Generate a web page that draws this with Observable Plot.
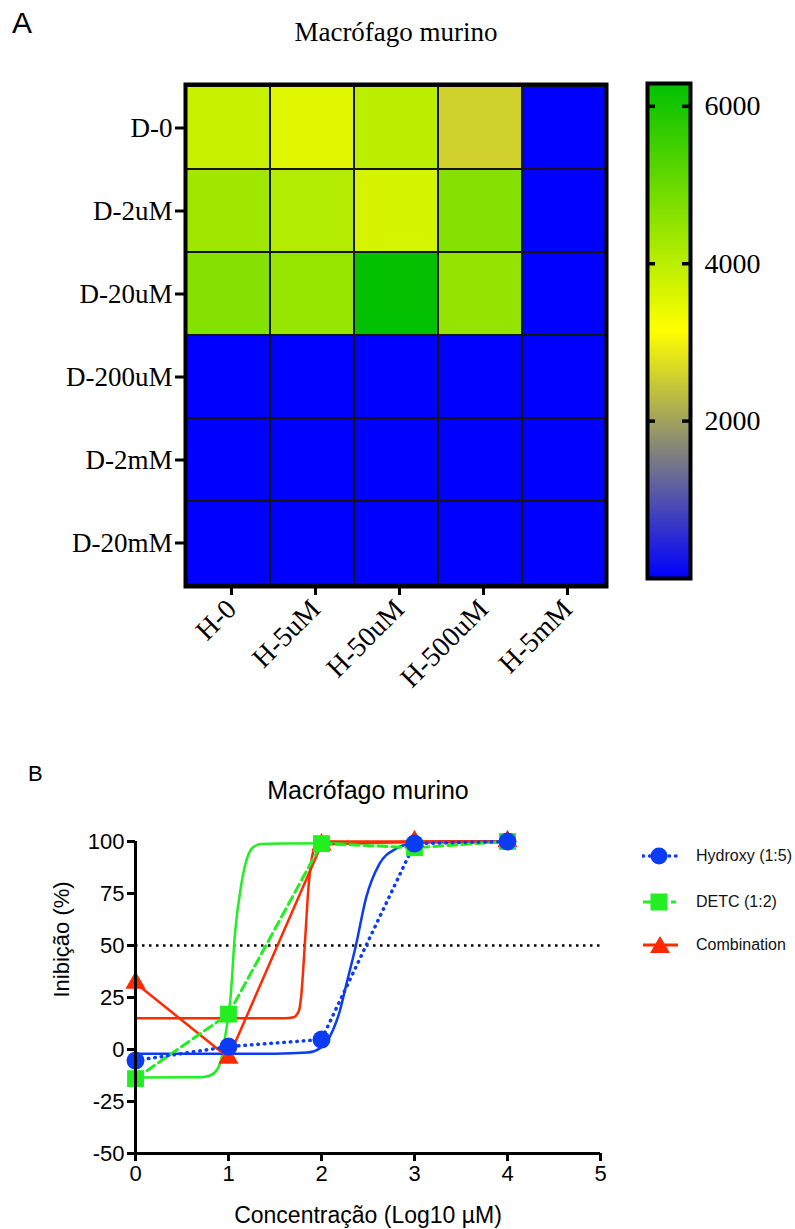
<!DOCTYPE html>
<html><head><meta charset="utf-8">
<script src="https://cdn.jsdelivr.net/npm/d3@7"></script>
<script src="https://cdn.jsdelivr.net/npm/@observablehq/plot@0.6"></script>
<style>
body{margin:0;background:#fff;}
#root{position:relative;width:795px;height:1229px;overflow:hidden;background:#fff;}
.abs{position:absolute;}
.lg{position:absolute;left:642px;height:20px;display:flex;align-items:center;white-space:nowrap;font-family:"Liberation Sans",Arial,sans-serif;font-size:16px;color:#111;}
.lg svg{margin-right:14px;flex:none;}
</style></head><body><div id="root"></div>
<script>
// ---------- Panel A: heatmap ----------
const hCols = ["H-0", "H-5uM", "H-50uM", "H-500uM", "H-5mM"];
const dRows = ["D-0", "D-2uM", "D-20uM", "D-200uM", "D-2mM", "D-20mM"];
const rowD0     = [3820, 3530, 3970, 2580, 0];
const rowD2uM   = [4320, 4070, 3680, 4660, 0];
const rowD20uM  = [4660, 4420, 6250, 4470, 0];
const rowD200uM = [0, 0, 0, 0, 0];
const rowD2mM   = [0, 0, 0, 0, 0];
const rowD20mM  = [0, 0, 0, 0, 0];
const colorMax = 6290;
const colorTicks = [2000, 4000, 6000];

// ---------- Panel B: dose-response ----------
const concLog = [0, 1, 2, 3, 4];
const hydroxyInh = [-5.3, 1.4, 4.8, 99, 100];
const detcInh = [-14, 17, 99, 97, 100];
const comboInh = [32, -4, 98.5, 100, 100];
const hydroxyFitX = [0, 1.5, 1.85, 1.98, 2.06, 2.12, 2.2, 2.26, 2.37, 2.48, 2.62, 2.8, 2.98, 3.3, 4];
const hydroxyFitY = [-2, -2, -1.5, 0.5, 4, 9, 19, 30, 50, 73, 89, 96.5, 99, 100, 100];
const detcFitX = [0, 0.7, 0.8, 0.88, 0.93, 0.97, 1.02, 1.07, 1.14, 1.2, 1.26, 1.35, 1.6, 4];
const detcFitY = [-13.5, -13.3, -12.5, -9.5, -3, 8, 24, 56, 80, 92, 97, 98.8, 99, 99.5];
const comboFitX = [0, 1.6, 1.7, 1.76, 1.78, 1.82, 1.86, 1.9, 1.95, 2.05, 4];
const comboFitY = [15, 15, 15.5, 19, 25, 50, 78, 93, 98.5, 100, 100];
const xTicksB = [0, 1, 2, 3, 4, 5];
const yTicksB = [-50, -25, 0, 25, 50, 75, 100];
const seriesNames = ["Hydroxy (1:5)", "DETC (1:2)", "Combination"];
const seriesColors = ["#0a3cf5", "#22ee22", "#ff2a00"];

const root = document.getElementById("root");
function place(el, left, top, w) {
  const d = document.createElement("div");
  d.className = "abs";
  d.style.left = left + "px"; d.style.top = top + "px";
  if (w) d.style.width = w + "px";
  d.appendChild(el); root.appendChild(d); return d;
}
function label(txt, left, top, css) {
  const d = document.createElement("div");
  d.className = "abs"; d.textContent = txt;
  d.style.left = left + "px"; d.style.top = top + "px";
  Object.assign(d.style, css); root.appendChild(d); return d;
}
const plain = d => String(d);

const colorScale = {type: "linear", domain: [0, colorMax / 2, colorMax], range: ["#0000ff", "#ffff00", "#00c000"], interpolate: "rgb"};

const rowsA = [rowD0, rowD2uM, rowD20uM, rowD200uM, rowD2mM, rowD20mM];
const heat = [];
dRows.forEach((d, i) => hCols.forEach((h, j) => heat.push({d, h, v: rowsA[i][j]})));

const plotA = Plot.plot({
  width: 795, height: 700,
  marginLeft: 185, marginRight: 189, marginTop: 84, marginBottom: 114,
  style: {fontFamily: "'Liberation Serif', 'Times New Roman', serif", fontSize: "27px", color: "#000", background: "transparent", overflow: "visible"},
  x: {domain: hCols, padding: 0, label: null},
  y: {domain: dRows, padding: 0, label: null},
  color: colorScale,
  marks: [
    Plot.cell(heat, {x: "h", y: "d", fill: "v", stroke: "#151515", strokeWidth: 2}),
    Plot.frame({stroke: "#000", strokeWidth: 4}),
    Plot.axisX({tickRotate: -45, tickSize: 9, tickPadding: 9, strokeWidth: 3, fontSize: 28, dx: 3, label: null}),
    Plot.axisY({tickSize: 10, tickPadding: 3, strokeWidth: 3, fontSize: 27, label: null}),
    Plot.text(["Macrófago murino"], {frameAnchor: "top", lineAnchor: "middle", dy: -52, fontSize: 27})
  ]
});
place(plotA, 0, 0, 795);
label("A", 12, 6, {fontFamily: "'Liberation Sans', Arial, sans-serif", fontSize: "30px", color: "#000"});

// colour bar
const barSteps = d3.range(0, colorMax, 5).map(v => ({v0: v, v1: Math.min(v + 6, colorMax), m: v + 2.5}));
const plotBar = Plot.plot({
  width: 175, height: 700,
  marginLeft: 27, marginRight: 105, marginTop: 83, marginBottom: 122,
  style: {fontFamily: "'Liberation Serif', 'Times New Roman', serif", fontSize: "28px", color: "#000", background: "transparent", overflow: "visible"},
  y: {domain: [0, colorMax], label: null},
  color: colorScale,
  marks: [
    Plot.rect(barSteps, {y1: "v0", y2: "v1", fill: "m", shapeRendering: "crispEdges"}),
    Plot.ruleY(colorTicks, {insetRight: 35, strokeWidth: 3.5, stroke: "#000"}),
    Plot.ruleY(colorTicks, {insetLeft: 35, strokeWidth: 3.5, stroke: "#000"}),
    Plot.frame({stroke: "#000", strokeWidth: 4}),
    Plot.axisY({anchor: "right", ticks: colorTicks, tickSize: 0, tickPadding: 14, fontSize: 28, tickFormat: plain, label: null})
  ]
});
place(plotBar, 620, 0, 175);

// ---------- Panel B ----------
const pts = (ys) => concLog.map((x, i) => ({x, y: ys[i]}));
const fit = (xs, ys) => xs.map((x, i) => ({x, y: ys[i]}));
const hydroxyPts = pts(hydroxyInh), detcPts = pts(detcInh), comboPts = pts(comboInh);
const [cH, cD, cC] = seriesColors;

const plotB = Plot.plot({
  width: 795, height: 489,
  marginLeft: 135, marginRight: 195, marginTop: 101, marginBottom: 76,
  style: {fontFamily: "'Liberation Sans', Arial, sans-serif", fontSize: "22px", color: "#000", background: "transparent", overflow: "visible"},
  x: {domain: [0, 5], label: null},
  y: {domain: [-50, 100], label: null},
  marks: [
    Plot.ruleY([50], {stroke: "#000", strokeWidth: 2.5, strokeDasharray: "2.5,4.5"}),
    Plot.line(fit(comboFitX, comboFitY), {x: "x", y: "y", stroke: cC, strokeWidth: 2.5, curve: "monotone-x"}),
    Plot.line(fit(detcFitX, detcFitY), {x: "x", y: "y", stroke: cD, strokeWidth: 2.5, curve: "monotone-x"}),
    Plot.line(fit(hydroxyFitX, hydroxyFitY), {x: "x", y: "y", stroke: cH, strokeWidth: 2.5, curve: "monotone-x"}),
    Plot.line(comboPts, {x: "x", y: "y", stroke: cC, strokeWidth: 2.5}),
    Plot.line(detcPts, {x: "x", y: "y", stroke: cD, strokeWidth: 3, strokeDasharray: "9,5"}),
    Plot.line(hydroxyPts, {x: "x", y: "y", stroke: cH, strokeWidth: 3.5, strokeDasharray: "0.5,6", strokeLinecap: "round"}),
    Plot.dot(comboPts, {x: "x", y: "y", symbol: "triangle", r: 7.5, fill: cC}),
    Plot.dot(detcPts, {x: "x", y: "y", symbol: "square", r: 9.5, fill: cD}),
    Plot.dot(hydroxyPts, {x: "x", y: "y", symbol: "circle", r: 9, fill: cH}),
    Plot.ruleX([0], {stroke: "#000", strokeWidth: 3}),
    Plot.ruleY([-50], {stroke: "#000", strokeWidth: 3}),
    Plot.axisX({ticks: xTicksB, tickSize: 8, tickPadding: 4, strokeWidth: 3, fontSize: 22, tickFormat: plain, label: null}),
    Plot.axisY({ticks: yTicksB, tickSize: 8, tickPadding: 3, strokeWidth: 3, fontSize: 22, tickFormat: plain, label: null}),
    Plot.text(["Macrófago murino"], {frameAnchor: "top", lineAnchor: "middle", dy: -51, fontSize: 25}),
    Plot.text(["Concentração (Log10 µM)"], {frameAnchor: "bottom", lineAnchor: "middle", dy: 62, fontSize: 23}),
    Plot.text(["Inibição (%)"], {frameAnchor: "left", lineAnchor: "middle", dx: -74, rotate: -90, fontSize: 22})
  ]
});
place(plotB, 0, 740, 795);
label("B", 28, 761, {fontFamily: "'Liberation Sans', Arial, sans-serif", fontSize: "22px", color: "#000"});

// legend
const legendTops = [846, 892, 935];
const legendSvgs = [
  `<svg width="40" height="20"><line x1="1" y1="10" x2="34" y2="10" stroke="${cH}" stroke-width="3.5" stroke-dasharray="0.5,6" stroke-linecap="round"/><circle cx="17" cy="10" r="8.5" fill="${cH}"/></svg>`,
  `<svg width="40" height="20"><line x1="1" y1="10" x2="34" y2="10" stroke="${cD}" stroke-width="3" stroke-dasharray="9,5"/><rect x="8.5" y="1.5" width="17" height="17" fill="${cD}"/></svg>`,
  `<svg width="40" height="20"><line x1="1" y1="10" x2="36" y2="10" stroke="${cC}" stroke-width="3"/><path d="M18,1 L28,18 L8,18 Z" fill="${cC}"/></svg>`
];
seriesNames.forEach((n, i) => {
  const d = document.createElement("div");
  d.className = "lg"; d.style.top = legendTops[i] + "px";
  d.innerHTML = legendSvgs[i] + `<span>${n}</span>`;
  root.appendChild(d);
});
</script></body></html>
